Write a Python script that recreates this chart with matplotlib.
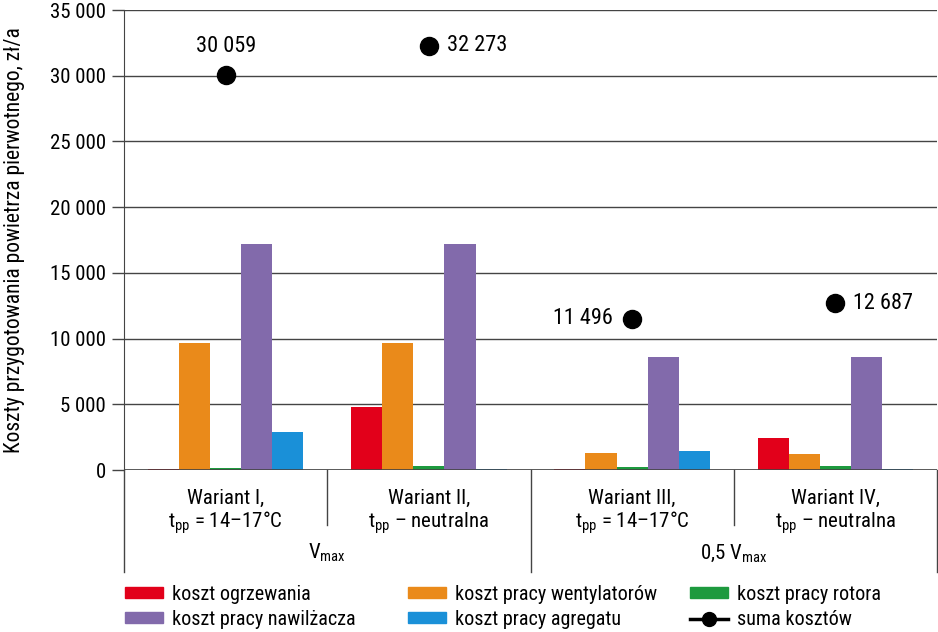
import numpy as np
import matplotlib
matplotlib.use('Agg')
import matplotlib.pyplot as plt
from matplotlib.lines import Line2D
from matplotlib.patches import Patch
from matplotlib.ticker import FuncFormatter

plt.rcParams['font.family'] = ['Roboto Condensed', 'DejaVu Sans']
plt.rcParams['mathtext.fontset'] = 'custom'
plt.rcParams['mathtext.rm'] = 'Roboto Condensed'
plt.rcParams['mathtext.it'] = 'Roboto Condensed'

# data
variants = ['Wariant I,', 'Wariant II,', 'Wariant III,', 'Wariant IV,']
conditions = ['t$_{\\mathrm{pp}}$ = 14–17°C', 't$_{\\mathrm{pp}}$ – neutralna',
              't$_{\\mathrm{pp}}$ = 14–17°C', 't$_{\\mathrm{pp}}$ – neutralna']
flow_groups = ['V$_{\\mathrm{max}}$', '0,5 V$_{\\mathrm{max}}$']
series_names = ['koszt ogrzewania', 'koszt pracy wentylatorów', 'koszt pracy rotora',
                'koszt pracy nawilżacza', 'koszt pracy agregatu']
ogrzewanie = [100, 4800, 100, 2400]
wentylatory = [9700, 9650, 1270, 1220]
rotor = [150, 330, 200, 300]
nawilzacz = [17200, 17200, 8600, 8600]
agregat = [2900, 50, 1470, 100]
suma = [30059, 32273, 11496, 12687]
suma_labels = ['30 059', '32 273', '11 496', '12 687']
colors = ['#e2001a', '#ea8a1a', '#1d9a3e', '#826aab', '#1a90d8']

series = [ogrzewanie, wentylatory, rotor, nawilzacz, agregat]

fig = plt.figure(figsize=(9.38, 6.32), dpi=100)
ax = fig.add_axes([124 / 938, 1 - 470 / 632, 813 / 938, 460 / 632])

x = np.arange(4) + 0.5
w = 0.153
for i, (vals, c) in enumerate(zip(series, colors)):
    ax.bar(x + (i - 2) * w, vals, width=w, color=c, zorder=3)

ax.plot(x, suma, 'o', color='black', markersize=13, zorder=4)
offsets = [(0, 13, 'center', 'bottom'), (13, 0, 'left', 'center'),
           (-14, 0, 'right', 'center'), (13, 0, 'left', 'center')]
for xi, yi, lab, (dx, dy, ha, va) in zip(x, suma, suma_labels, offsets):
    ax.annotate(lab, (xi, yi), xytext=(dx, dy), textcoords='offset points',
                ha=ha, va=va, fontsize=16)

ax.set_xlim(0, 4)
ax.set_ylim(0, 35000)
ax.set_yticks(np.arange(0, 35001, 5000))
ax.yaxis.set_major_formatter(FuncFormatter(lambda v, p: f'{int(v):,}'.replace(',', ' ')))
ax.tick_params(axis='y', labelsize=15, length=9, width=1, direction='out', pad=4,
               color='#444444')
ax.set_xticks([])
ax.grid(axis='y', color='#444444', linewidth=1, zorder=0)
for s in ['top', 'right', 'bottom']:
    ax.spines[s].set_visible(False)
ax.spines['left'].set_color('#444444')
ax.axhline(0, color='#444444', linewidth=1.2, zorder=5)
ax.set_ylabel('Koszty przygotowania powietrza pierwotnego, zł/a', fontsize=15.5)
ax.yaxis.set_label_coords(-99 / 813, 0.5)

# category area under the axis
trans = ax.get_xaxis_transform()
def ypix(p):
    return (470 - p) / 460.0

for xd in [0, 2, 4]:
    ax.plot([xd, xd], [0, ypix(572)], color='#444444', linewidth=1, transform=trans, clip_on=False)
for xd in [1, 3]:
    ax.plot([xd, xd], [0, ypix(525)], color='#444444', linewidth=1, transform=trans, clip_on=False)
for xi, v, cnd in zip(x, variants, conditions):
    ax.text(xi, ypix(498), v, ha='center', va='center', fontsize=15, transform=trans)
    ax.text(xi, ypix(523), cnd, ha='center', va='center', fontsize=15, transform=trans)
for xg, lab in zip([1, 3], flow_groups):
    ax.text(xg, ypix(553), lab, ha='center', va='center', fontsize=15, transform=trans)

# legend, one column at a time
handles = [Patch(color=c) for c in colors]
handles.append(Line2D([], [], color='black', marker='o', markersize=10, linewidth=2.5))
labels = series_names + ['suma kosztów']
cols = [(0, 3), (1, 4), (2, 5)]
lefts = [125, 408, 690]
for (a, b), lx in zip(cols, lefts):
    fig.legend([handles[a], handles[b]], [labels[a], labels[b]], loc='upper left',
               bbox_to_anchor=(lx / 938, 1 - 585 / 632), frameon=False, fontsize=14.5,
               handlelength=1.9, handleheight=0.45, handletextpad=0.45, labelspacing=0.3,
               borderpad=0, borderaxespad=0)

fig.savefig('out.png', dpi=100)
